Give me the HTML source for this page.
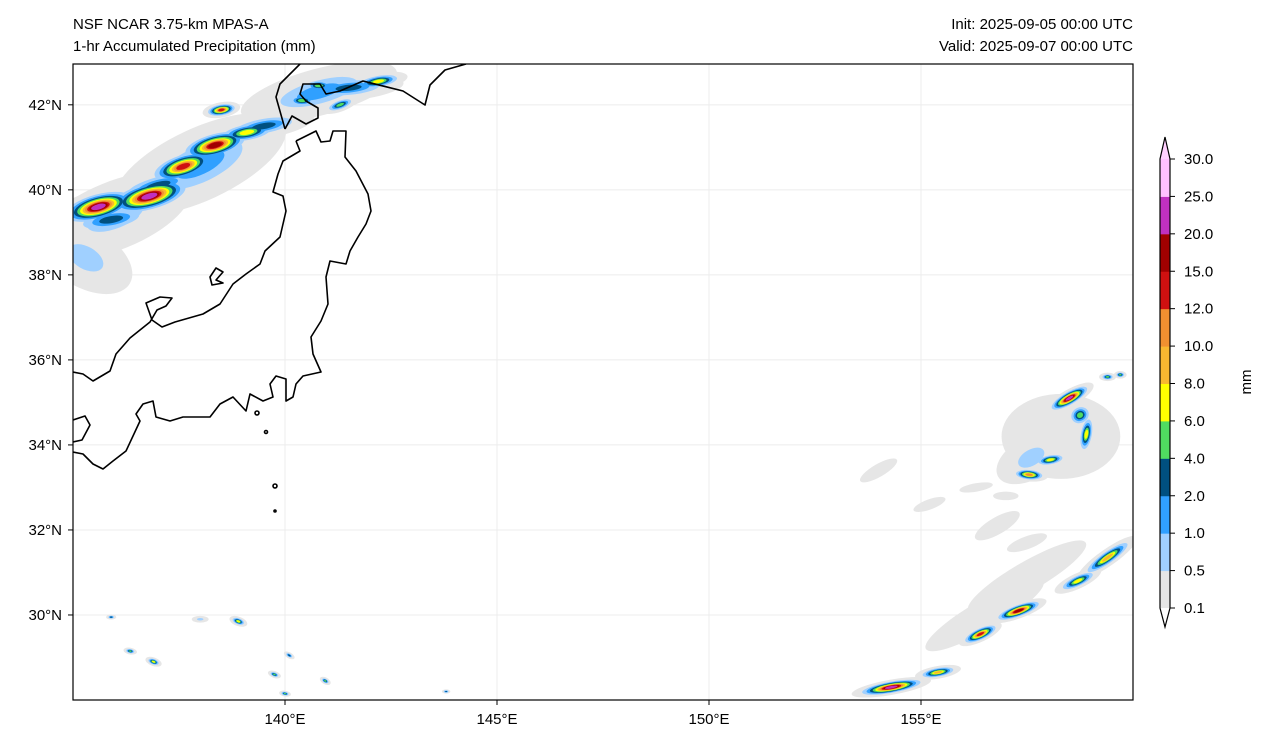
<!DOCTYPE html>
<html><head><meta charset="utf-8"><style>
html,body{margin:0;padding:0;background:#fff;}
svg{display:block;font-family:"Liberation Sans","DejaVu Sans",sans-serif;}
</style></head><body>
<svg id="fig" width="1268" height="745" viewBox="0 0 1268 745">
<defs><clipPath id="mapclip"><rect x="73" y="64" width="1060" height="636"/></clipPath></defs>
<text x="73" y="29" font-size="15">NSF NCAR 3.75-km MPAS-A</text>
<text x="73" y="51" font-size="15">1-hr Accumulated Precipitation (mm)</text>
<text x="1133" y="29" font-size="15" text-anchor="end">Init: 2025-09-05 00:00 UTC</text>
<text x="1133" y="51" font-size="15" text-anchor="end">Valid: 2025-09-07 00:00 UTC</text>
<g id="grid"></g>
<g id="precip" clip-path="url(#mapclip)"></g>
<g clip-path="url(#mapclip)" fill="none" stroke="#000" stroke-width="1.6" stroke-linejoin="round">
<path d="M296,141 L316,131 L321,142 L330,141 L333,131 L346,131 L345,157 L356,171 L368,194 L371,211 L366,224 L358,237 L350,251 L346,264 L330,261 L326,277 L328,304 L321,321 L311,337 L313,354 L321,372 L303,376 L296,384 L293,397 L286,401 L286,379 L276,376 L270,384 L273,397 L263,401 L250,394 L246,411 L233,397 L220,404 L210,417 L183,417 L170,421 L156,417 L153,401 L143,404 L136,414 L140,421 L126,451 L113,461 L103,469 L93,464 L83,454 L73,452"/>
<path d="M296,141 L300,151 L283,161 L278,174 L273,192 L283,196 L286,211 L280,237 L265,251 L260,264 L246,274 L233,284 L220,304 L203,314 L175,322 L162,327 L152,320 L146,303 L160,297 L172,298 L166,306 L157,310 L150,322 L130,338 L116,354 L110,371 L93,381 L83,374 L73,372"/>
<path d="M216,268 L223,272 L216,280 L223,283 L212,285 L210,277 Z"/>
<path d="M285,129 L276,97 L280,84 L300,64 M466,64 L445,70 L430,85 L425,105 L403,91 L363,81 L340,91 L326,94 L320,84 L303,84 L300,94 L306,101 L318,108 L318,118 L306,124 L292,116 L285,129"/>
<path d="M73,420 L85,416 L90,425 L82,440 L73,442"/>
<circle cx="257" cy="413" r="2"/>
<circle cx="266" cy="432" r="1.5"/>
<circle cx="275" cy="486" r="2"/>
<circle cx="275" cy="511" r="1"/>
</g>
<rect x="73" y="64" width="1060" height="636" fill="none" stroke="#000" stroke-width="1.2"/>
<g id="axes"></g>
<g id="cbar"></g>
<text transform="translate(1251,382) rotate(-90)" font-size="15" text-anchor="middle">mm</text>
</svg>
<script>
const NS="http://www.w3.org/2000/svg";
const lonTicks=[140,145,150,155];
const latTicks=[30,32,34,36,38,40,42];
const cbarLevels=["0.1","0.5","1.0","2.0","4.0","6.0","8.0","10.0","12.0","15.0","20.0","25.0","30.0"];
const cbarColors=["#e6e6e6","#a0d0ff","#30a0ff","#005080","#50dc60","#ffff00","#f8b830","#f09030","#d01010","#a00000","#c030c0","#ffc0ff"];
// blobs: lon, lat, rx(deg), ry(deg), angle, max level index
const blobLon=[135.6,136.8,137.6,138.35,139.1,138.5,140.4,141.3,140.8,142.2,136.0,135.3,138.0,140.8,135.9,137.0,139.5,141.5,
 158.5,158.9,158.05,157.55,159.4,159.7,158.3,157.6,158.75,
 159.4,158.7,157.3,156.4,155.4,154.3,156.5,157.5,
 138.9,136.9,136.35,139.75,140.1,140.95,140.0,135.9,138.0,143.8,
 154.0,155.2,156.8,157.5,156.3,157.0];
const blobLat=[39.6,39.85,40.55,41.05,41.35,41.88,42.1,42.0,42.45,42.55,39.4,38.4,40.6,42.3,39.3,40.1,41.5,42.4,
 35.1,34.25,33.65,33.3,35.6,35.65,34.2,33.7,34.7,
 31.35,30.8,30.1,29.55,28.65,28.3,30.0,30.9,
 29.85,28.9,29.15,28.6,29.05,28.45,28.15,29.95,29.9,28.2,
 33.4,32.6,32.1,31.7,33.0,32.8];
const blobRx=[1.1,1.2,1.0,1.0,0.9,0.45,0.45,0.45,0.45,0.7,1.9,0.7,2.2,1.9,1.2,1.3,1.2,1.3,
 0.65,0.2,0.45,0.45,0.2,0.15,1.4,0.9,0.3,
 0.85,0.6,0.7,0.55,0.55,0.95,1.6,1.6,
 0.22,0.2,0.16,0.16,0.14,0.14,0.14,0.12,0.2,0.1,
 0.5,0.4,0.6,0.5,0.4,0.3];
const blobRy=[0.4,0.42,0.38,0.36,0.28,0.18,0.18,0.16,0.18,0.2,0.8,1.2,0.85,0.55,0.35,0.35,0.3,0.3,
 0.2,0.55,0.16,0.16,0.1,0.09,1.0,0.5,0.35,
 0.2,0.18,0.18,0.18,0.15,0.18,0.35,0.35,
 0.11,0.1,0.08,0.08,0.07,0.08,0.07,0.06,0.08,0.05,
 0.15,0.12,0.2,0.15,0.1,0.1];
const blobAng=[-15,-15,-18,-15,-10,-10,0,-20,0,-10,-22,-60,-25,-15,-10,-15,-10,-5,
 -30,10,-10,5,0,0,0,-30,60,
 -35,-25,-20,-25,-10,-10,-30,-30,
 20,20,10,20,30,30,10,0,0,0,
 -30,-20,-30,-20,-10,0];
const blobMax=[10,10,8,9,5,8,4,4,4,5,1,1,2,2,3,3,3,3,
 10,5,5,7,4,4,0,1,4,
 6,5,9,8,6,10,0,0,
 5,5,4,4,3,4,4,3,1,3,
 0,0,0,0,0,0];
const x0=73,x1=1133,y0=64,y1=700,lonMin=135,lonMax=160,latMin=28,latMax=42.96;
function xs(lon){return x0+(lon-lonMin)/(lonMax-lonMin)*(x1-x0);}
function ys(lat){return y1-(lat-latMin)/(latMax-latMin)*(y1-y0);}
const pxLon=(x1-x0)/(lonMax-lonMin), pxLat=(y1-y0)/(latMax-latMin);
function mk(tag,attrs,parent){const e=document.createElementNS(NS,tag);for(const k in attrs)e.setAttribute(k,attrs[k]);parent.appendChild(e);return e;}
const grid=document.getElementById('grid');
lonTicks.forEach(v=>{const l=mk('line',{x1:xs(v),x2:xs(v),y1:y0,y2:y1,stroke:'#ececec','stroke-width':1},grid);

});
latTicks.forEach(v=>{const l=mk('line',{x1:x0,x2:x1,y1:ys(v),y2:ys(v),stroke:'#ececec','stroke-width':1},grid);

});
const pr=document.getElementById('precip');
for(let L=0;L<cbarColors.length;L++){
  for(let i=0;i<blobLon.length;i++){
    const M=blobMax[i]; if(M<L) continue;
    const f=1-0.88*Math.sqrt(L/(M+1));
    const cx=xs(blobLon[i]),cy=ys(blobLat[i]);
    const e=mk('ellipse',{cx:cx,cy:cy,rx:blobRx[i]*pxLon*f,ry:blobRy[i]*pxLat*f,fill:cbarColors[L],
      transform:`rotate(${blobAng[i]} ${cx} ${cy})`},pr);
    
    
  }
}
const ax=document.getElementById('axes');
lonTicks.forEach(v=>{
  const t=mk('line',{x1:xs(v),x2:xs(v),y1:y1,y2:y1+5,stroke:'#000'},ax);
  
  
  const tx=mk('text',{x:xs(v),y:y1+24,'font-size':15,'text-anchor':'middle'},ax);tx.textContent=v+'°E';
  
  
});
latTicks.forEach(v=>{
  const t=mk('line',{x1:x0-5,x2:x0,y1:ys(v),y2:ys(v),stroke:'#000'},ax);
  
  
  const tx=mk('text',{x:x0-11,y:ys(v)+5,'font-size':15,'text-anchor':'end'},ax);tx.textContent=v+'°N';
  
  
});
const cb=document.getElementById('cbar');
const cbx=1160,cbw=10,cbTop=159,cbBot=608;
const step=(cbBot-cbTop)/(cbarLevels.length-1);
function cy(i){return cbBot-i*step;}
for(let i=0;i<cbarColors.length;i++){
  const r=mk('rect',{x:cbx,y:cy(i+1),width:cbw,height:step+0.5,fill:cbarColors[i]},cb);
  
  
}
const tt=mk('polygon',{points:`${cbx},${cbTop} ${cbx+cbw},${cbTop} ${cbx+cbw/2},137`,fill:'#ffd0ff'},cb);


const bt=mk('polygon',{points:`${cbx},${cbBot} ${cbx+cbw},${cbBot} ${cbx+cbw/2},627`,fill:'#ffffff'},cb);


const ol=mk('polygon',{points:`${cbx+cbw/2},137 ${cbx+cbw},${cbTop} ${cbx+cbw},${cbBot} ${cbx+cbw/2},627 ${cbx},${cbBot} ${cbx},${cbTop}`,fill:'none',stroke:'#000','stroke-width':1.2},cb);


cbarLevels.forEach((s,i)=>{
  const t=mk('line',{x1:cbx+cbw,x2:cbx+cbw+5,y1:cy(i),y2:cy(i),stroke:'#000'},cb);
  
  
  const tx=mk('text',{x:cbx+cbw+14,y:cy(i)+5,'font-size':15},cb);tx.textContent=s;
  
  
});
</script>
</body></html>
